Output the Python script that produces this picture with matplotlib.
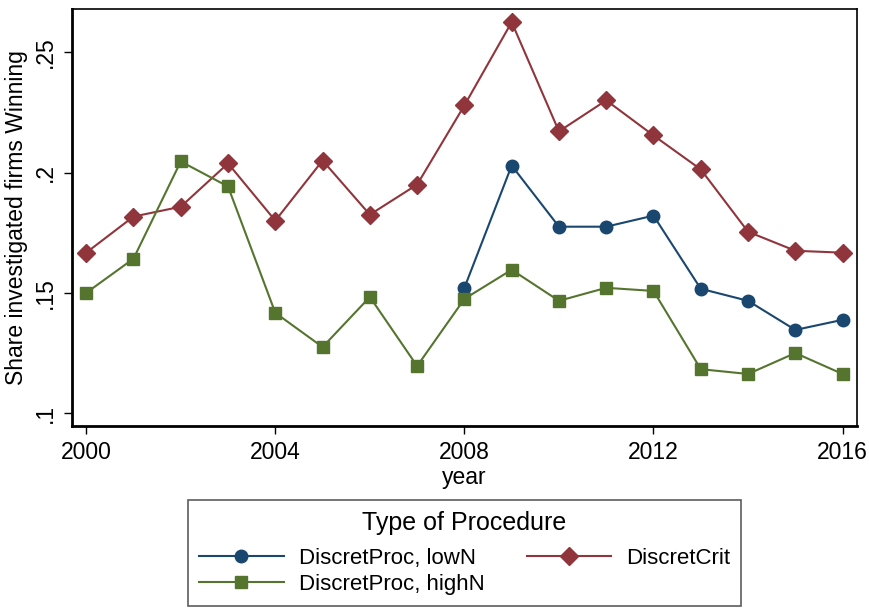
import matplotlib.pyplot as plt
from matplotlib.lines import Line2D

plt.rcParams['font.family'] = ['Liberation Sans', 'DejaVu Sans']

years = list(range(2000, 2017))
years_low = list(range(2008, 2017))

discret_crit = [0.1667, 0.1817, 0.1858, 0.2038, 0.1800, 0.2050, 0.1825, 0.1950,
                0.2279, 0.2625, 0.2171, 0.2300, 0.2154, 0.2013, 0.1754, 0.1675, 0.1667]
proc_low = [0.1521, 0.2029, 0.1775, 0.1775, 0.1821, 0.1517, 0.1467, 0.1346, 0.1388]
proc_high = [0.1500, 0.1642, 0.2046, 0.1942, 0.1417, 0.1275, 0.1483, 0.1196,
             0.1475, 0.1596, 0.1467, 0.1521, 0.1508, 0.1183, 0.1163, 0.1250, 0.1163]

navy = '#1a476f'
maroon = '#90353b'
green = '#55752f'

fig = plt.figure(figsize=(8.7, 6.08), dpi=100)
ax = fig.add_axes([0.0828, 0.299, 0.902, 0.686])

l1, = ax.plot(years_low, proc_low, color=navy, marker='o', ms=9, lw=1.5)
l2, = ax.plot(years, discret_crit, color=maroon, marker='D', ms=9, lw=1.5)
l3, = ax.plot(years, proc_high, color=green, marker='s', ms=9, lw=1.5)

ax.set_xlim(1999.70, 2016.30)
ax.set_ylim(0.0946, 0.2679)
ax.set_xticks([2000, 2004, 2008, 2012, 2016])
ax.set_yticks([0.1, 0.15, 0.2, 0.25])
ax.set_yticklabels(['.1', '.15', '.2', '.25'], rotation=90, va='center')
ax.tick_params(labelsize=16.5, length=6, width=1, direction='out', pad=5)
ax.set_xlabel('year', fontsize=16.5, labelpad=1)
ax.set_ylabel('Share investigated firms Winning', fontsize=16.5, labelpad=4)
for s in ax.spines.values():
    s.set_linewidth(1.2)
ax.spines['left'].set_linewidth(2)
ax.spines['bottom'].set_linewidth(2)

leg = fig.legend([l1, l3, l2], ['DiscretProc, lowN', 'DiscretProc, highN', 'DiscretCrit'],
                 ncol=2, loc='lower center', bbox_to_anchor=(0.534, 0.003),
                 title='Type of Procedure', fontsize=16, title_fontsize=18,
                 frameon=True, fancybox=False, edgecolor='#333333',
                 handlelength=3.8, handletextpad=0.67, columnspacing=1.9,
                 borderpad=0.5, labelspacing=0.25, borderaxespad=0.0)
leg.get_frame().set_linewidth(1.2)
# a bit more room between the legend title and the entries
leg._legend_box.sep = 9

fig.savefig('out.png', dpi=100)
